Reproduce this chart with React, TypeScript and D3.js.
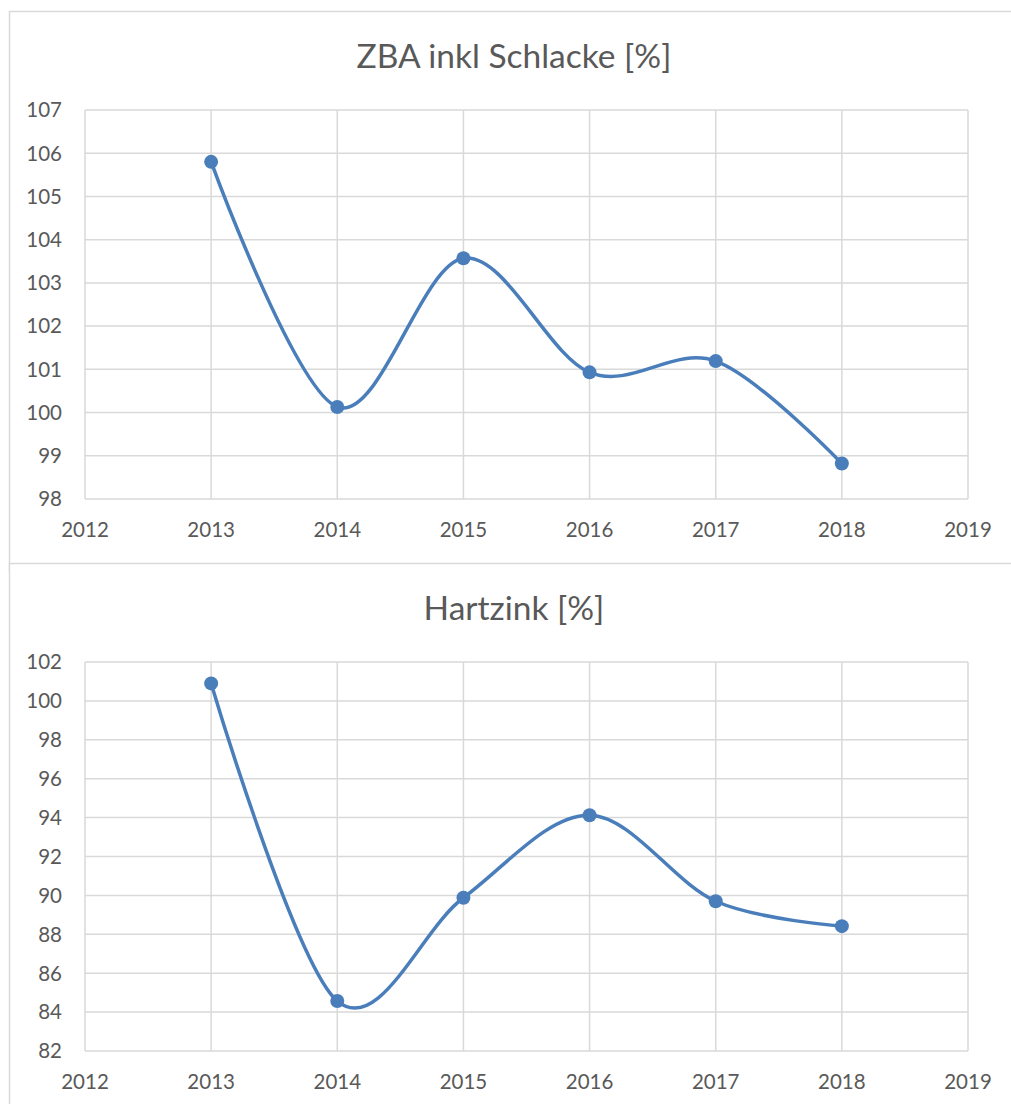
import * as d3 from 'd3'

const years = [2013, 2014, 2015, 2016, 2017, 2018]
const zbaValues = [105.8, 100.13, 103.57, 100.93, 101.19, 98.82]
const hartzinkValues = [100.9, 84.57, 89.88, 94.12, 89.7, 88.42]
const xTicks = [2012, 2013, 2014, 2015, 2016, 2017, 2018, 2019]
const zbaTicks = [98, 99, 100, 101, 102, 103, 104, 105, 106, 107]
const hartzinkTicks = [82, 84, 86, 88, 90, 92, 94, 96, 98, 100, 102]

const WIDTH = 1011
const HEIGHT = 1104
const PLOT = { left: 85, right: 968 }
const GRID = '#d9d9d9'
const TEXT = '#595959'
const LINE = '#4a7ebb'
const FONT = 'Lato, "Open Sans", sans-serif'

type ChartProps = {
  top: number
  title: string
  values: number[]
  yTicks: number[]
}

function Chart({ top, title, values, yTicks }: ChartProps) {
  const plotTop = top + 99
  const plotBottom = top + 488
  const x = d3.scaleLinear([xTicks[0], xTicks[xTicks.length - 1]], [PLOT.left, PLOT.right])
  const y = d3.scaleLinear([yTicks[0], yTicks[yTicks.length - 1]], [plotBottom, plotTop])
  const points = years.map((yr, i) => [x(yr), y(values[i])] as [number, number])
  // Excel "smoothed line" ~ uniform Catmull-Rom
  const path = d3.line().curve(d3.curveCardinal.tension(0))(points) ?? ''

  return (
    <g>
      {/* chart frame */}
      <rect x={9.5} y={top + 0.5} width={WIDTH} height={560} fill="#fff" stroke={GRID} strokeWidth={1.5} />
      <text x={514} y={top + 57} textAnchor="middle" fontSize={33.5} fill={TEXT} fontFamily={FONT}>
        {title}
      </text>

      {/* grid */}
      {yTicks.map(t => (
        <line key={`h${t}`} x1={PLOT.left} x2={PLOT.right} y1={y(t)} y2={y(t)} stroke={GRID} strokeWidth={1.5} />
      ))}
      {xTicks.map(t => (
        <line key={`v${t}`} x1={x(t)} x2={x(t)} y1={plotTop} y2={plotBottom} stroke={GRID} strokeWidth={1.5} />
      ))}

      {/* tick labels */}
      {yTicks.map(t => (
        <text key={`yl${t}`} x={PLOT.left - 23} y={y(t)} dy="0.36em" textAnchor="end"
          fontSize={20.5} fill={TEXT} fontFamily={FONT}>{t}</text>
      ))}
      {xTicks.map(t => (
        <text key={`xl${t}`} x={x(t)} y={plotBottom + 38} textAnchor="middle"
          fontSize={20.5} fill={TEXT} fontFamily={FONT}>{t}</text>
      ))}

      {/* series */}
      <path d={path} fill="none" stroke={LINE} strokeWidth={3.5} strokeLinecap="round" />
      {points.map(([px, py], i) => (
        <circle key={i} cx={px} cy={py} r={7} fill={LINE} />
      ))}
    </g>
  )
}

export default function App() {
  return (
    <svg width={WIDTH} height={HEIGHT} style={{ position: 'absolute', left: 0, top: 0, background: '#fff' }}>
      <rect width={WIDTH} height={HEIGHT} fill="#fff" />
      <Chart top={11} title="ZBA inkl Schlacke [%]" values={zbaValues} yTicks={zbaTicks} />
      <Chart top={563} title="Hartzink [%]" values={hartzinkValues} yTicks={hartzinkTicks} />
    </svg>
  )
}
